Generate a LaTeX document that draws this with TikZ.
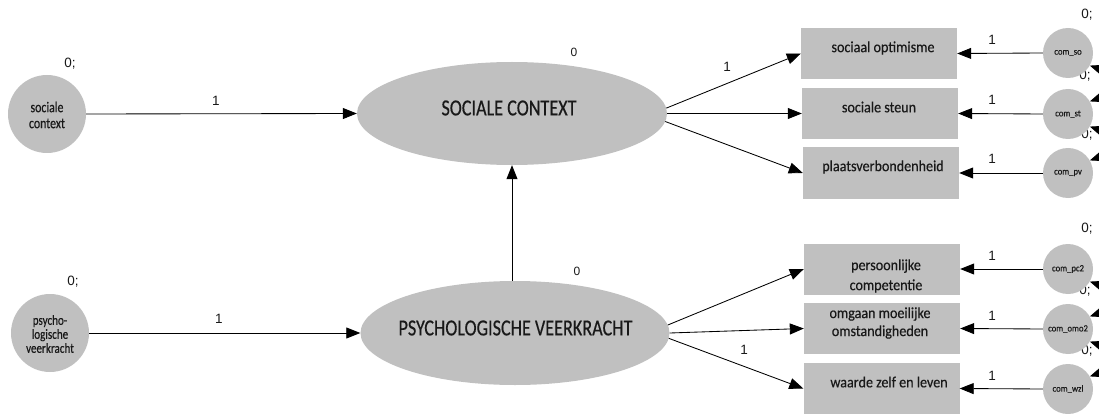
\documentclass[tikz,border=0pt]{standalone}
\usepackage{fontspec}
\usetikzlibrary{arrows.meta,shapes.geometric}
\newfontfamily\cond[FakeStretch=0.79,FakeBold=0.4]{Carlito}
\newfontfamily\condw[FakeStretch=0.91,FakeBold=0.4]{Carlito}
\newfontfamily\numf{Liberation Sans}
\definecolor{amosgray}{RGB}{192,192,192}
\definecolor{txt}{RGB}{25,25,25}
\begin{document}
\begin{tikzpicture}[x=1pt,y=-1pt,
  latent/.style={ellipse,fill=amosgray,inner sep=0pt,minimum width=310pt,minimum height=103pt},
  obsbox/.style={rectangle,fill=amosgray,inner sep=0pt,minimum width=156pt,minimum height=51pt},
  errc/.style={circle,fill=amosgray,inner sep=0pt,minimum size=50pt,font=\condw\fontsize{9.5}{10}\selectfont,text=txt},
  exoc/.style={circle,fill=amosgray,inner sep=0pt,minimum size=78pt},
  lbl/.style={inner sep=0pt,font=\cond\fontsize{15}{16}\selectfont,text=txt,align=center},
  boxlbl/.style={inner sep=0pt,font=\condw\fontsize{15.5}{18}\selectfont,text=txt,align=center},
  big/.style={inner sep=0pt,font=\cond\fontsize{23}{24}\selectfont,text=txt},
  num/.style={inner sep=0pt,font=\numf\fontsize{13.5}{14}\selectfont,text=txt},
  snum/.style={inner sep=0pt,font=\numf\fontsize{12}{13}\selectfont,text=txt},
  pth/.style={draw=black,line width=0.85pt,-{Triangle[length=14pt,width=11pt]}},
  cov/.style={draw=black,line width=0.85pt,{Triangle[length=14pt,width=11pt]}-{Triangle[length=14pt,width=11pt]}}
]
\useasboundingbox (0,0) rectangle (1099,414);

% variance labels (drawn first, circles cover them)
\node[num] (v1) at (70,64) {0;};
\node[num] (v2) at (73,282) {0;};
\node[num] (e1v) at (1087,15) {0;};
\node[num] (e2v) at (1085,76) {0;};
\node[num] (e3v) at (1087,135) {0;};
\node[num] (e4v) at (1087,229) {0;};
\node[num] (e5v) at (1085,291) {0;};
\node[num] (e6v) at (1087,351) {0;};

% exogenous
\node[exoc] (sc) at (47,114) {};
\node[lbl] (sct) at (47,115) {sociale\\context};
\node[exoc] (pv) at (50,333) {};
\node[lbl,font=\cond\fontsize{14}{14}\selectfont] (pvt) at (50,334) {psycho-\\logische\\veerkracht};

% latent
\node[latent] (SC) at (512,113.5) {};
\node[big] (SCt) at (509,108) {SOCIALE CONTEXT};
\node[snum] (SCv) at (574,52) {0};
\node[latent,minimum width=309pt,minimum height=104pt] (PV) at (515,333) {};
\node[big] (PVt) at (515.5,328) {PSYCHOLOGISCHE VEERKRACHT};
\node[snum] (PVv) at (577,271) {0};

% boxes
\node[obsbox] (b1) at (879,53.5) {};
\node[boxlbl] (b1t) at (883,48) {sociaal optimisme};
\node[obsbox] (b2) at (880,113.5) {};
\node[boxlbl] (b2t) at (879,107) {sociale steun};
\node[obsbox] (b3) at (881,173) {};
\node[boxlbl] (b3t) at (883,167) {plaatsverbondenheid};
\node[obsbox] (b4) at (882,269) {};
\node[boxlbl,font=\condw\fontsize{15.5}{20}\selectfont] (b4t) at (886,276) {persoonlijke\\competentie};
\node[obsbox] (b5) at (882,328.5) {};
\node[boxlbl] (b5t) at (880,323) {omgaan moeilijke\\omstandigheden};
\node[obsbox] (b6) at (881.5,388.5) {};
\node[boxlbl] (b6t) at (889,382) {waarde zelf en leven};

% error circles
\node[errc] (eso) at (1068,53) {com\_so};
\node[errc] (est) at (1068,114) {com\_st};
\node[errc] (epv) at (1068,173) {com\_pv};
\node[errc] (epc) at (1068,269) {com\_pc2};
\node[errc] (eom) at (1068,329) {com\_omo2};
\node[errc] (ewz) at (1068,389) {com\_wzl};

% paths
\draw[pth] (sc.east) -- (SC.west);
\draw[pth] (pv.east) -- (PV.west);
\draw[pth] (PV.north -| SC.south) -- (SC.south);
\draw[pth] (SC.2.4) -- (b1.west);
\draw[pth] (SC.0) -- (b2.west);
\draw[pth] (SC.-3) -- (b3.west);
\draw[pth] (PV.3) -- (b4.west);
\draw[pth] (PV.0.4) -- (b5.west);
\draw[pth] (PV.-2.6) -- (b6.west);
\foreach \e/\b in {eso/b1,est/b2,epv/b3,epc/b4,eom/b5,ewz/b6}
  \draw[pth] (\e.west) -- (\b.east);

% covariances (running off the right edge)
\draw[cov] (eso.-30) .. controls +(35,12) and +(35,-12) .. (est.30);
\draw[cov] (est.-30) .. controls +(35,12) and +(35,-12) .. (epv.30);
\draw[cov] (epc.-30) .. controls +(35,12) and +(35,-12) .. (eom.30);
\draw[cov] (eom.-30) .. controls +(35,12) and +(35,-12) .. (ewz.30);

% path labels
\node[num] (l1) at (216,101) {1};
\node[num] (l2) at (219,319) {1};
\node[num] (l3) at (727,67) {1};
\node[num] (l4) at (744,350) {1};
\node[num] (l5) at (992,40) {1};
\node[num] (l6) at (992,100) {1};
\node[num] (l7) at (992,159) {1};
\node[num] (l8) at (992,256) {1};
\node[num] (l9) at (992,316) {1};
\node[num] (l10) at (992,376) {1};
\end{tikzpicture}
\end{document}
